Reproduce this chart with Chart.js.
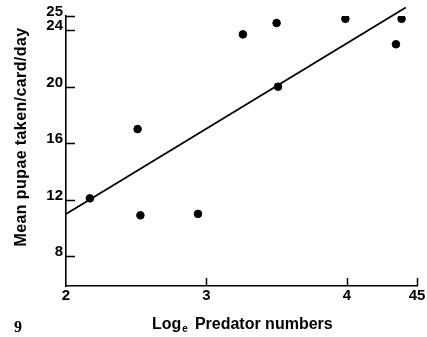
<!DOCTYPE html>
<html>
<head>
<meta charset="utf-8">
<script src="https://cdn.jsdelivr.net/npm/chart.js@4.4.1/dist/chart.umd.min.js"></script>
<style>
  html, body { margin: 0; padding: 0; background: #fff; }
</style>
</head>
<body>
<canvas id="chart" width="427" height="337"></canvas>
<script>
// Mean pupae taken per card per day against log_e of predator numbers
const logPredators = [2.17, 2.51, 2.53, 2.94, 3.26, 3.50, 3.51, 3.99, 4.35, 4.39]
const pupaeTaken = [12.1, 17.0, 10.9, 11.0, 23.7, 24.5, 20.0, 24.8, 23.0, 24.8]

// fitted regression line (end points)
const fitX = [2.0, 4.42]
const fitY = [11.0, 25.6]

const xTicks = [2, 3, 4, 4.5]
const xTickLabels = ["2", "3", "4", "45"]
const yTicks = [8, 12, 16, 20, 24, 25]
const yTickLabels = ["8", "12", "16", "20", "24", "25"]

const SANS = "'Liberation Sans', Arial, Helvetica, sans-serif"

// inward tick marks, titles and figure number
const framePlugin = {
  id: "frame",
  afterDraw(chart) {
    const ctx = chart.ctx
    const area = chart.chartArea
    const xs = chart.scales.x
    const ys = chart.scales.y

    ctx.save()
    ctx.strokeStyle = "#000000"
    ctx.lineWidth = 1.5
    ctx.setLineDash([])
    ctx.beginPath()
    yTicks.forEach((v) => {
      const py = Math.round(ys.getPixelForValue(v)) + 0.5
      ctx.moveTo(area.left, py)
      ctx.lineTo(area.left + 9, py)
    })
    xTicks.slice(1).forEach((v) => {
      const px = Math.round(xs.getPixelForValue(v)) + 0.5
      ctx.moveTo(px, area.bottom)
      ctx.lineTo(px, area.bottom - 8)
    })
    ctx.stroke()

    ctx.fillStyle = "#000"

    // y title
    ctx.save()
    ctx.translate(22, 137)
    ctx.rotate(-Math.PI / 2)
    ctx.font = "bold 16px " + SANS
    ctx.letterSpacing = "0.4px"
    ctx.textAlign = "center"
    ctx.textBaseline = "middle"
    ctx.fillText("Mean pupae taken/card/day", 0, 0)
    ctx.restore()

    // x title with subscript e
    ctx.textBaseline = "alphabetic"
    ctx.textAlign = "left"
    let tx = 152
    const base = 329
    ctx.font = "bold 16px " + SANS
    ctx.fillText("Log", tx, base)
    tx += ctx.measureText("Log").width
    ctx.font = "bold 10px " + SANS
    ctx.fillText("e", tx + 1, base + 3)
    tx += ctx.measureText("e").width + 8
    ctx.font = "bold 16px " + SANS
    ctx.fillText("Predator numbers", tx, base)

    // figure number
    ctx.font = "bold 16px 'Liberation Serif', 'Times New Roman', serif"
    ctx.fillText("9", 14, 332)
    ctx.restore()
  }
}

const axisBorder = { display: true, color: "#000", width: 1.6 }

new Chart(document.getElementById("chart"), {
  type: "scatter",
  data: {
    datasets: [
      {
        data: logPredators.map((v, i) => ({ x: v, y: pupaeTaken[i] })),
        backgroundColor: "#000",
        borderColor: "#000",
        pointRadius: 3.8,
        pointHoverRadius: 3.8
      },
      {
        type: "line",
        data: fitX.map((v, i) => ({ x: v, y: fitY[i] })),
        borderColor: "#000",
        borderWidth: 1.8,
        pointRadius: 0,
        fill: false,
        clip: false
      }
    ]
  },
  options: {
    responsive: false,
    animation: false,
    events: [],
    layout: { padding: { top: 16, right: 10, left: 0, bottom: 0 } },
    plugins: {
      legend: { display: false },
      tooltip: { enabled: false }
    },
    scales: {
      x: {
        type: "linear",
        min: 2,
        max: 4.5,
        grid: { display: false, drawTicks: false },
        border: axisBorder,
        afterBuildTicks: (scale) => {
          scale.ticks = xTicks.map((v) => ({ value: v }))
        },
        afterFit: (scale) => {
          scale.height = 51
        },
        ticks: {
          autoSkip: false,
          maxRotation: 0,
          padding: 1,
          color: "#000",
          font: { family: SANS, size: 15, weight: "bold" },
          callback: (value) => xTickLabels[xTicks.indexOf(value)]
        }
      },
      y: {
        type: "linear",
        min: 5.9,
        max: 25,
        grid: { display: false, drawTicks: false },
        border: axisBorder,
        afterBuildTicks: (scale) => {
          scale.ticks = yTicks.map((v) => ({ value: v }))
        },
        afterFit: (scale) => {
          scale.width = 66
        },
        ticks: {
          autoSkip: false,
          padding: 3,
          labelOffset: -4,
          color: "#000",
          font: { family: SANS, size: 15, weight: "bold" },
          callback: (value) => yTickLabels[yTicks.indexOf(value)]
        }
      }
    }
  },
  plugins: [framePlugin]
})
</script>
</body>
</html>
